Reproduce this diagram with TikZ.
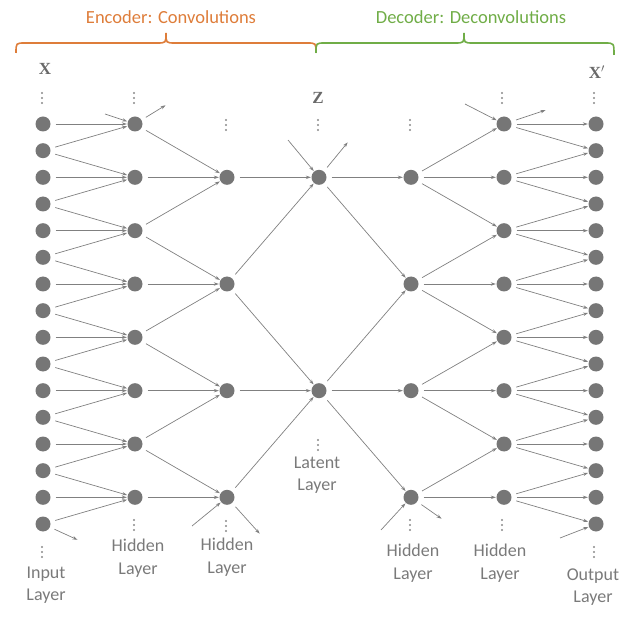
\documentclass[tikz,border=0pt]{standalone}
\usepackage{fontspec}
\setmainfont{Carlito}
\newfontfamily\xfont{Liberation Serif}
\usetikzlibrary{arrows.meta}
\definecolor{nodegray}{RGB}{118,118,118}
\definecolor{linegray}{RGB}{128,128,128}
\definecolor{txtgray}{RGB}{122,122,122}
\definecolor{xgray}{RGB}{105,105,105}
\definecolor{encorange}{RGB}{222,125,58}
\definecolor{decgreen}{RGB}{112,173,71}
\tikzset{
  neuron/.style={circle,fill=nodegray,inner sep=0pt,minimum size=15pt},
  conn/.style={draw=linegray,line width=0.7pt,-{Stealth[length=5pt,width=3.4pt]},shorten <=5pt,shorten >=0.5pt},
  stub/.style={draw=linegray,line width=0.7pt,-{Stealth[length=5pt,width=3.4pt]},shorten >=0.5pt},
  lbl/.style={text=txtgray,font=\fontsize{18}{22.5}\selectfont,align=center,inner sep=0pt},
  vlbl/.style={text=xgray,font=\xfont\bfseries\fontsize{17}{20}\selectfont,inner sep=0pt},
  ttl/.style={font=\fontsize{18.5}{22}\selectfont,inner sep=0pt},
  brace/.style={line width=1.6pt},
  vd/.pic={\foreach \d in {-5,0,5} \fill[nodegray!85] (0,\d) circle (1.1pt);}
}
\begin{document}
\begin{tikzpicture}[x=1pt,y=-1pt]
\path[use as bounding box] (0,0) rectangle (640,620);
% columns
\def\xin{43}\def\xha{135}\def\xhb{227}\def\xz{319}\def\xhc{411}\def\xhd{504}\def\xout{596}
\foreach \i in {0,...,15} {
  \node[neuron] (in\i) at (\xin,{124+\i*80/3}) {};
  \node[neuron] (out\i) at (\xout,{124+\i*80/3}) {};
}
\foreach \i in {0,...,7} {
  \node[neuron] (ha\i) at (\xha,{124+\i*160/3}) {};
  \node[neuron] (hd\i) at (\xhd,{124+\i*160/3}) {};
}
\foreach \i in {0,...,3} {
  \node[neuron] (hb\i) at (\xhb,{124+(4*\i+2)*80/3}) {};
  \node[neuron] (hc\i) at (\xhc,{124+(4*\i+2)*80/3}) {};
}
\node[neuron] (z0) at (\xz,{124+2*80/3}) {};
\node[neuron] (z1) at (\xz,{124+10*80/3}) {};

% encoder: input -> hidden A
\foreach \i [evaluate=\i as \a using int(2*\i), evaluate=\i as \b using int(2*\i+1), evaluate=\i as \n using int(\i+1)] in {0,...,7} {
  \draw[conn] (in\a) -- (ha\i);
  \draw[conn] (in\b) -- (ha\i);
  \ifnum\i<7 \draw[conn] (in\b) -- (ha\n); \fi
}
% hidden A -> hidden B
\foreach \k [evaluate=\k as \a using int(2*\k), evaluate=\k as \b using int(2*\k+1), evaluate=\k as \p using int(\k-1)] in {0,...,3} {
  \draw[conn] (ha\b) -- (hb\k);
  \draw[conn] (ha\a) -- (hb\k);
  \ifnum\k>0 \draw[conn] (ha\a) -- (hb\p); \fi
}
% hidden B -> latent
\draw[conn] (hb0) -- (z0);
\draw[conn] (hb1) -- (z0);
\draw[conn] (hb1) -- (z1);
\draw[conn] (hb2) -- (z1);
\draw[conn] (hb3) -- (z1);
% latent -> hidden C
\draw[conn] (z0) -- (hc0);
\draw[conn] (z0) -- (hc1);
\draw[conn] (z1) -- (hc1);
\draw[conn] (z1) -- (hc2);
\draw[conn] (z1) -- (hc3);
% hidden C -> hidden D
\foreach \k [evaluate=\k as \a using int(2*\k), evaluate=\k as \b using int(2*\k+1), evaluate=\k as \c using int(2*\k+2)] in {0,...,3} {
  \draw[conn] (hc\k) -- (hd\a);
  \draw[conn] (hc\k) -- (hd\b);
  \ifnum\k<3 \draw[conn] (hc\k) -- (hd\c); \fi
}
% hidden D -> output
\foreach \j [evaluate=\j as \a using int(2*\j), evaluate=\j as \b using int(2*\j+1), evaluate=\j as \p using int(2*\j-1)] in {0,...,7} {
  \ifnum\j>0 \draw[conn] (hd\j) -- (out\p); \fi
  \draw[conn] (hd\j) -- (out\a);
  \draw[conn] (hd\j) -- (out\b);
}
% free stubs
\coordinate (s1) at (105,114);
\coordinate (e1) at (166,105);
\coordinate (e2) at (78,540);
\coordinate (s3) at (192,526);
\coordinate (e3) at (260,534);
\coordinate (s4) at (288,140);
\coordinate (e4) at (348,142);
\coordinate (s5) at (381,530);
\coordinate (e5) at (442,519);
\coordinate (s6) at (465,104);
\coordinate (e6) at (546,110);
\coordinate (s7) at (560,538);
\draw[stub] (s1) -- (ha0);
\draw[conn] (ha0) -- (e1);
\draw[conn] (in15) -- (e2);
\draw[stub] (s3) -- (hb3);
\draw[conn] (hb3) -- (e3);
\draw[stub] (s4) -- (z0);
\draw[conn] (z0) -- (e4);
\draw[stub] (s5) -- (hc3);
\draw[conn] (hc3) -- (e5);
\draw[stub] (s6) -- (hd0);
\draw[conn] (hd0) -- (e6);
\draw[stub] (s7) -- (out15);

% vertical dots
\foreach \x/\y in {42/98, 134/98, 226/125, 318/125, 410/125, 502/98, 594/98,
                   42/552, 134/525, 226/526, 318/445, 410/525, 502/525, 594/552}
  \pic at (\x,\y) {vd};

% variable labels
\node[vlbl] (lx) at (45,69) {X};
\node[vlbl] (lz) at (318,98) {Z};
\node[vlbl] (lxp) at (597,72) {X$'$};

% layer labels
\node[lbl] (linput) at (46,585) {Input\\Layer};
\node[lbl] (lha) at (138,558) {Hidden\\Layer};
\node[lbl] (lhb) at (227,557) {Hidden\\Layer};
\node[lbl] (llat) at (317,475) {Latent\\Layer};
\node[lbl] (lhc) at (413,563) {Hidden\\Layer};
\node[lbl] (lhd) at (500,563) {Hidden\\Layer};
\node[lbl] (lout) at (593,587) {Output\\Layer};

% braces
\draw[brace,encorange] (16,53) .. controls (16,43) .. (25,43) -- (157,43)
  .. controls (166,43) .. (166,33) .. controls (166,43) .. (175,43) -- (307,43)
  .. controls (316,43) .. (316,53);
\draw[brace,decgreen] (316,53) .. controls (316,43) .. (325,43) -- (455,43)
  .. controls (464,43) .. (464,33) .. controls (464,43) .. (473,43) -- (605,43)
  .. controls (614,43) .. (614,55);
\node[ttl,text=encorange] (enc) at (171,17) {Encoder: Convolutions};
\node[ttl,text=decgreen] (dec) at (471,17) {Decoder: Deconvolutions};
\end{tikzpicture}
\end{document}
